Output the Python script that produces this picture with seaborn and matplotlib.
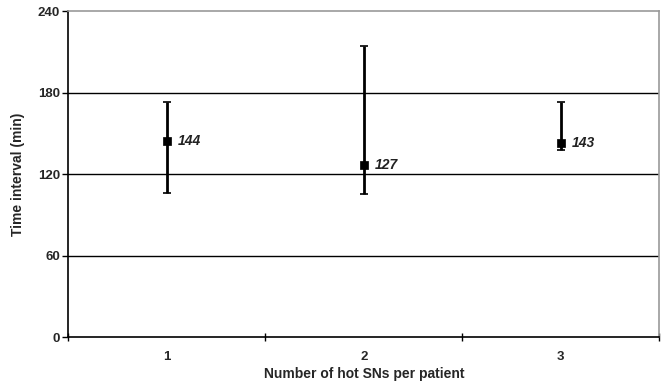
import numpy as np
import pandas as pd
import matplotlib
matplotlib.use("Agg")
import matplotlib.pyplot as plt
import seaborn as sns

# Data
categories = ["1", "2", "3"]
means = [144, 127, 143]
lows = [106, 105, 138]
highs = [173, 214, 173]
labels = ["144", "127", "143"]

df = pd.DataFrame({"n_hot": categories, "mean": means, "low": lows, "high": highs})

sns.set_theme(style="white")
plt.rcParams["font.family"] = ["Liberation Sans", "DejaVu Sans"]

fig = plt.figure(figsize=(6.62, 3.83), dpi=100)
ax = fig.add_axes([0.103, 0.12, 0.893, 0.851])

# horizontal gridlines
for y in [60, 120, 180]:
    ax.axhline(y, color="black", lw=1.0, zorder=0)

xpos = np.arange(len(categories))
yerr = [df["mean"] - df["low"], df["high"] - df["mean"]]
ax.errorbar(xpos, df["mean"], yerr=yerr, fmt="none", ecolor="black",
            elinewidth=2.0, capsize=3, capthick=1.2, zorder=2)
sns.scatterplot(x=xpos, y=df["mean"], ax=ax, marker="s", s=40,
                color="black", edgecolor="black", zorder=3, legend=False)

for x, m, t in zip(xpos, df["mean"], labels):
    ax.annotate(t, (x, m), xytext=(8, 0), textcoords="offset points",
                ha="left", va="center", fontsize=10, fontstyle="italic",
                fontweight="bold", color="#222222")

ax.set_xlim(-0.5, 2.5)
ax.set_ylim(0, 240)
ax.set_yticks([0, 60, 120, 180, 240])
ax.set_xticks(xpos)
ax.set_xticklabels(categories)
ax.set_xticks([-0.5, 0.5, 1.5, 2.5], minor=True)

ax.tick_params(axis="x", which="major", length=0, pad=10, labelsize=9.5)
ax.tick_params(axis="x", which="minor", length=6, width=1, direction="inout",
               color="black", bottom=True)
ax.tick_params(axis="y", which="major", length=4, width=1, direction="out",
               color="black", left=True, labelsize=9.5, pad=2)
for lab in ax.get_xticklabels() + ax.get_yticklabels():
    lab.set_fontweight("bold")

for side in ["left", "bottom"]:
    ax.spines[side].set_color("black")
    ax.spines[side].set_linewidth(1.2)
for side in ["top", "right"]:
    ax.spines[side].set_color("#999999")
    ax.spines[side].set_linewidth(1.2)

ax.set_xlabel("Number of hot SNs per patient", fontsize=10, fontweight="bold", labelpad=3)
ax.set_ylabel("Time interval (min)", fontsize=10, fontweight="bold", labelpad=9)

fig.savefig("out.png", dpi=100)
